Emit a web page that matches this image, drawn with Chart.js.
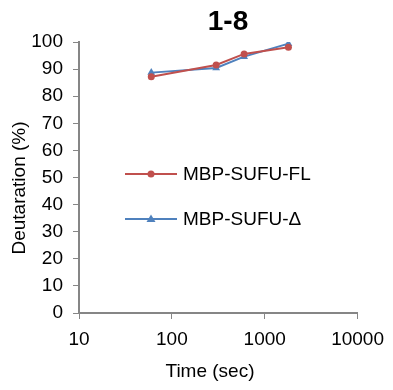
<!DOCTYPE html>
<html>
<head>
<meta charset="utf-8">
<script src="https://cdn.jsdelivr.net/npm/chart.js@4/dist/chart.umd.min.js"></script>
<style>
  html, body { margin: 0; padding: 0; background: #fff; }
  #wrap { width: 393px; height: 390px; position: relative; }
</style>
</head>
<body>
<div id="wrap"><canvas id="chart"></canvas></div>
<script>
const chartTitle = "1-8";
const xTitle = "Time (sec)";
const yTitle = "Deutaration (%)";
const times = [60, 300, 600, 1800];
const flValues = [87.2, 91.5, 95.6, 98.1];
const deltaValues = [88.7, 90.4, 94.6, 99.4];
const seriesNames = ["MBP-SUFU-FL", "MBP-SUFU-\u0394"];
const xTicks = [10, 100, 1000, 10000];

const FONT = "'Liberation Sans', Arial, sans-serif";
const RED = "#C0504D";
const BLUE = "#4F81BD";
const AXIS = "#868686";

// title, axis titles and legend placed like the excel original
const overlay = {
  id: "overlay",
  afterDraw(chart) {
    const ctx = chart.ctx;
    ctx.save();
    ctx.fillStyle = "#000";
    ctx.font = "bold 28px " + FONT;
    ctx.textAlign = "center";
    ctx.textBaseline = "middle";
    ctx.fillText(chartTitle, 228, 22);

    ctx.font = "19px " + FONT;
    ctx.fillText(xTitle, 210, 372);
    ctx.save();
    ctx.translate(20, 188);
    ctx.rotate(-Math.PI / 2);
    ctx.fillText(yTitle, 0, 0);
    ctx.restore();

    const items = [
      { label: seriesNames[0], color: RED, style: "circle", y: 174 },
      { label: seriesNames[1], color: BLUE, style: "triangle", y: 219 }
    ];
    ctx.textAlign = "left";
    items.forEach(it => {
      ctx.strokeStyle = it.color;
      ctx.lineWidth = 2;
      ctx.beginPath();
      ctx.moveTo(125, it.y);
      ctx.lineTo(177, it.y);
      ctx.stroke();
      ctx.fillStyle = it.color;
      ctx.beginPath();
      if (it.style === "circle") {
        ctx.arc(151, it.y, 3.5, 0, Math.PI * 2);
      } else {
        ctx.moveTo(151, it.y - 4.5);
        ctx.lineTo(155.5, it.y + 3);
        ctx.lineTo(146.5, it.y + 3);
        ctx.closePath();
      }
      ctx.fill();
      ctx.fillStyle = "#000";
      ctx.fillText(it.label, 183, it.y + 1);
    });
    ctx.restore();
  }
};

new Chart(document.getElementById("chart"), {
  type: "line",
  data: {
    datasets: [
      {
        label: seriesNames[0],
        data: times.map((t, i) => ({ x: t, y: flValues[i] })),
        borderColor: RED,
        backgroundColor: RED,
        borderWidth: 2,
        pointStyle: "circle",
        pointRadius: 3.5,
        pointBorderWidth: 0
      },
      {
        label: seriesNames[1],
        data: times.map((t, i) => ({ x: t, y: deltaValues[i] })),
        borderColor: BLUE,
        backgroundColor: BLUE,
        borderWidth: 2,
        pointStyle: "triangle",
        pointRadius: 4.5,
        pointBorderWidth: 0
      }
    ]
  },
  options: {
    responsive: true,
    maintainAspectRatio: false,
    animation: false,
    layout: { padding: { top: 42, right: 35, bottom: 0, left: 0 } },
    plugins: { legend: { display: false }, tooltip: { enabled: false } },
    scales: {
      x: {
        type: "logarithmic",
        min: 10,
        max: 10000,
        afterBuildTicks: s => { s.ticks = xTicks.map(v => ({ value: v })); },
        afterFit: s => { s.height = 77; },
        grid: { drawOnChartArea: false, drawTicks: true, tickLength: 6, color: AXIS },
        border: { color: AXIS, width: 2 },
        ticks: { color: "#000", font: { family: FONT, size: 19 }, padding: 9, maxRotation: 0,
          callback: v => String(v) }
      },
      y: {
        min: 0,
        max: 100,
        afterFit: s => { s.width = 79; },
        grid: { drawOnChartArea: false, drawTicks: true, tickLength: 6, color: AXIS },
        border: { color: AXIS, width: 2 },
        ticks: { stepSize: 10, color: "#000", font: { family: FONT, size: 19 }, padding: 10 }
      }
    }
  },
  plugins: [overlay]
});
</script>
</body>
</html>
